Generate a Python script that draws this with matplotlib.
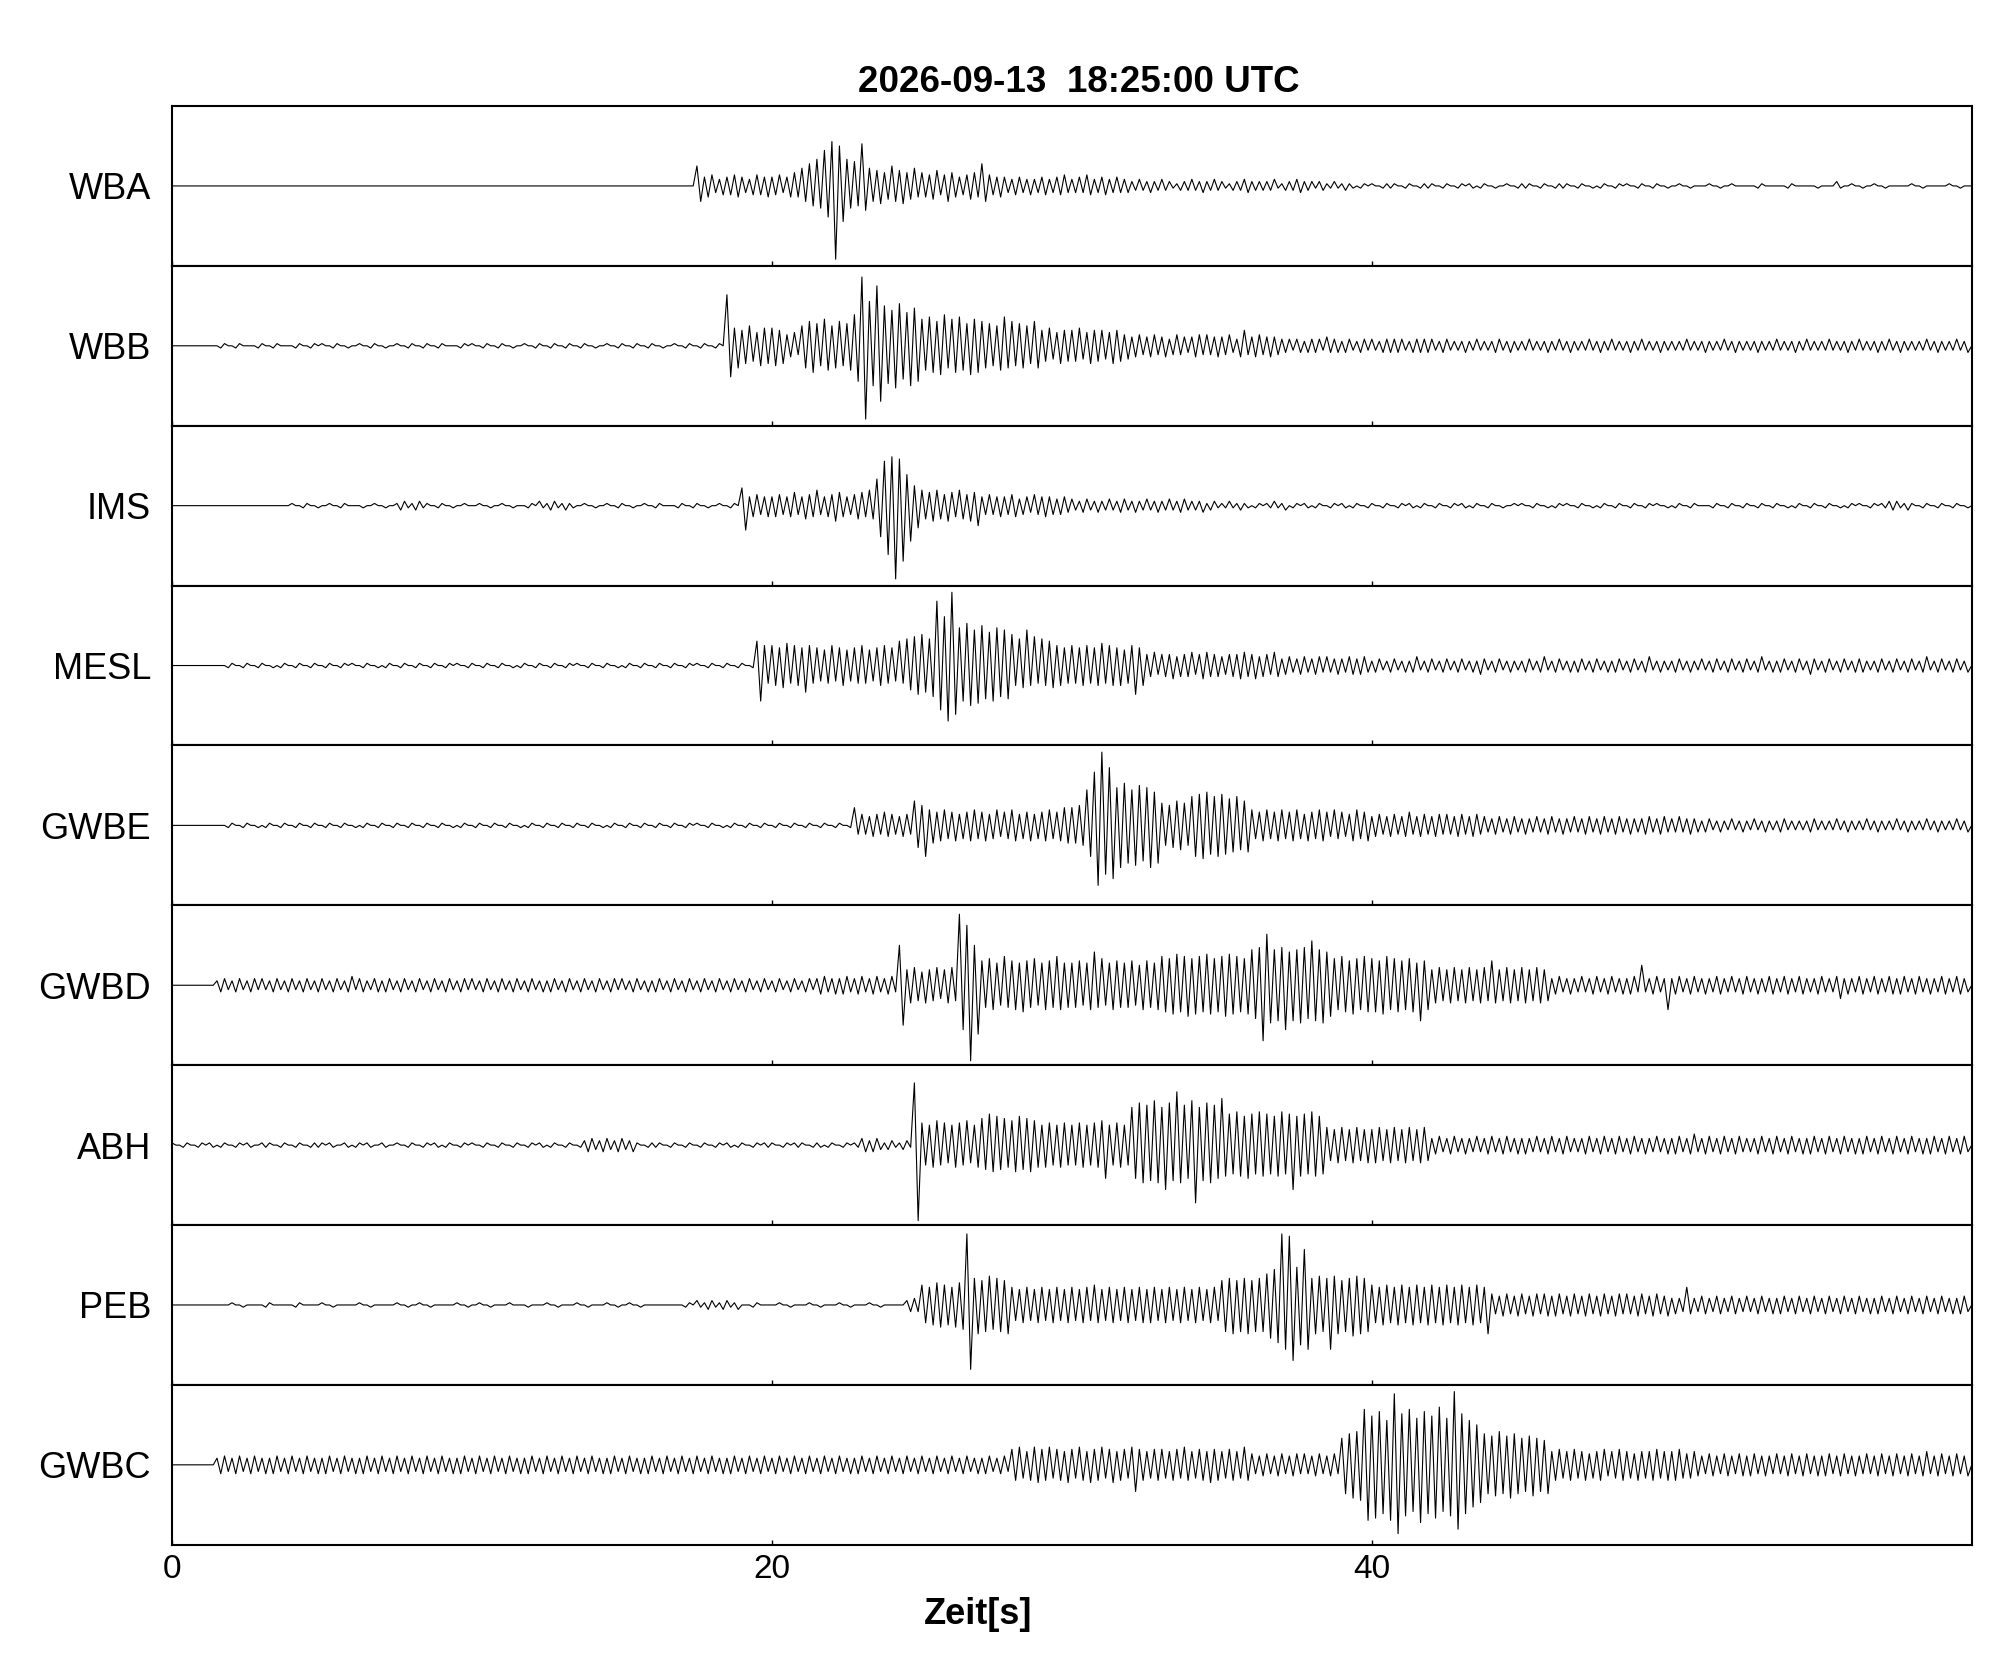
import numpy as np
import matplotlib.pyplot as plt

plt.rcParams['font.family'] = ['Liberation Sans', 'DejaVu Sans']

# ==========================
# Data
# ==========================
title = "2026-09-13  18:25:00 UTC"
xlabel = "Zeit[s]"
stations = ["WBA", "WBB", "IMS", "MESL", "GWBE", "GWBD", "ABH", "PEB", "GWBC"]
xticks = [0, 20, 40]
t_end = 60
bin_s = 0.25      # one min/max bin = 0.25 s
full_scale = 36   # level 36 would touch the panel edge

# peak up / peak down per 0.25 s bin, base-36 digits (0..z), 10 s per line
WBA_up = ("0000000000" "0000000000" "0000000000" "0000000000"
          "0000000000" "0000000000" "0000000000" "9453454354"
          "454" "68a" "cgkicbj" "8769768" "65756456a54" "434334345"
          "34534343" "23223212322321232223123222" "121101"
          "1011010110" "1011010010" "1101011010" "0101101010"
          "0100010010" "0010001000" "0020100100" "0010000100")
WBA_dn = ("0000000000" "0000000000" "0000000000" "0000000000"
          "0000000000" "0000000000" "0000000000" "7534453445"
          "435" "579" "aexga9b" "7867865" "56475465745" "343434343"
          "33434333" "22322122232212232221223212" "112110"
          "0110101101" "0101101001" "1010110101" "1010010101"
          "0010001000" "0100010001" "0010010010" "0001000010")

WBB_up = ("0000000101" "0010100101" "1010010100" "1010101001"
          "1010100101" "0101010010" "1010100101" "0101" "n" "87968"
          "87" "56" "9bac9ba" "evkr" "igjfh" "cdbecdac" "ba9dba9b" "7867"
          "78677675" "4545435445" "5445374544" "333233432323"
          "3233323332" "3222322322" "2322232223" "2232223222"
          "2232222322" "2222322232" "2322232223" "2222322232")
WBB_dn = ("0000001010" "0101001010" "0101001010" "0101010010"
          "0101010010" "1010101001" "0101010010" "1010" "e" "a8798"
          "98" "54" "ac9ba9b" "gxip" "hjfig" "bcdacbdc" "a9ba9a8a" "7687"
          "76876876" "5454544354" "4543545454" "323332333232"
          "2333233323" "2232223232" "2223223222" "3222322232"
          "2222322232" "2322223222" "2223222322" "3222232223")

IMS_up = ("0000000000" "0000001010" "0101000100" "1212101001"
          "0100100012" "1211010010" "1001010010" "100101" "8" "454"
          "45464574564567" "ckmle9" "76756756" "454453454434"
          "3232232322" "3223232212" "1211011210" "1101011010"
          "1010110101" "0110101001" "1010011010" "0101010110"
          "0101001010" "1010100101" "0100110112" "2110101010")
IMS_dn = ("0000000000" "0000000101" "0010010010" "2121010100"
          "0010010101" "2121001001" "0100100101" "010010" "b" "545"
          "54546545754656" "emxpga" "67675679" "445454345443"
          "2323223232" "2322322321" "1121101121" "0110101101"
          "0101011010" "1011010100" "0101100101" "1010101001"
          "1010010101" "0101011010" "1011001012" "1201010101")

MESL_up = ("0000000010" "1010010101" "0101101001" "0101010110"
           "1010100101" "0101101010" "0101010101" "10101010" "b" "9"
           "98a989" "87987897898b" "cdec" "tmx" "hjgifhg" "ecgdcb" "98"
           "9898a98798" "565545656545565456" "343434433434"
           "2323224232" "3232232322" "2324232232" "3223232422"
           "2322323232" "3242232323" "2323232232" "3232423232")
MESL_dn = ("0000000101" "0101101010" "1010010110" "1010101001"
           "0101011010" "1010010101" "1010101010" "01010101" "g" "8"
           "9a89c8" "787978879878" "bdce" "kpm" "gihfgef" "9a989a" "98"
           "89898998d9" "545655465545656545" "434343343443"
           "3232332323" "2323423232" "3232323323" "2332323232"
           "3232232323" "2323323242" "3232332323" "2323232323")

GWBE_up = ("0000000010" "1001010101" "0101001010" "1010101001"
           "0101010010" "1010101001" "0101010101" "1010010101"
           "01010101010" "8" "5456545" "b97" "67656765767565676" "8"
           "89" "goxq" "hjgihf" "a9ba" "defdecdb" "7676767567676576"
           "4545464545" "5454543434" "3343433434" "3434333434"
           "3433232232" "2322232223" "2232223222" "3222322232")
GWBE_dn = ("0000000101" "0110101010" "1010110101" "0101010110"
           "1010101101" "0101010110" "1010101010" "0101101010"
           "10101010101" "4" "4545454" "ae8" "76767676567676767" "8"
           "89" "ermo" "jhigjh" "9ab9" "efdedcbc" "6767676767565767"
           "5454545454" "4545434343" "4334343343" "4343434343"
           "3343323223" "2232322232" "2223222322" "2322232223")

GWBD_up = ("0000002323" "2332323232" "3232432323" "2323232323"
           "3232323232" "2323232323" "3232232323" "2323232323"
           "232323" "34334343434" "i" "7867878" "wri" "bcadbabcabda"
           "abafcabab9ba" "dcedcdecdedc" "ghnghfghkgf" "cdbcd"
           "cbdcbcab" "78787878b7878787" "3433434343349343"
           "3434334343" "4334343433" "4343343434" "3434334343")
GWBD_dn = ("0000003232" "3223232323" "2323232332" "3232323232"
           "2323232323" "3232323232" "2323323232" "3232323232"
           "323232" "43443434343" "i" "8787687" "kym" "ab9abca9baba"
           "a9ba9baa9bab" "cdcedcdcedcd" "fphgkghfghe" "bcdbc"
           "cdbcbcgb" "8787878787878787" "434334343443343b"
           "4343434334" "3434343434" "3364343434" "4343434343")

ABH_up = ("1010110101" "1011010101" "1101011010" "1010110101"
          "1010101011" "0101023232" "3210110101" "0101101011"
          "101110101011" "323" "1212" "s" "a9ba9ab9" "cedcbdcb" "9a9a"
          "9a9ab9a9" "hjikhjoikhji" "lefdefedfedefd" "878787"
          "7878787834" "3433434343" "3343434334" "3434343343"
          "3435343434" "3343434334" "3434334343" "4343343434")
ABH_dn = ("0101011010" "1010101011" "0101101010" "0101011010"
          "0101010101" "1010132323" "2301101010" "1010110101"
          "010101110101" "332" "2121" "y" "9a98a98a" "bcbacbca" "a9a9"
          "9a9af9a9" "fhghkghfqghf" "edefdededkeded" "787878"
          "8787878743" "4343343434" "4334343343" "4343434334"
          "4343434343" "3434343443" "4343443434" "3434434343")

PEB_up = ("0000000010" "0001000100" "1000010000" "1001000010"
          "0100010000" "1000100010" "0100000001" "2121210010"
          "010001000100010000" "23" "98a98a" "w" "cbdcb" "87878787"
          "8789787878" "7878787878" "bcbcbc" "egwvhp" "cdcdbcdc"
          "9898989898" "9898985454" "5455454545" "4545545454"
          "3383434343" "4343343434" "3434343343" "4343434334")
PEB_dn = ("0000000001" "0010001000" "0100001000" "0100100001"
          "0010000100" "0100010001" "0010000010" "1212120100"
          "001000100010001000" "33" "89a9ab" "t" "dcbcd" "78787878"
          "7878787878" "8787878787" "cdcdcc" "fhkpik" "dckdcedc"
          "8989898989" "89898d4545" "4545545454" "5454454545"
          "4343434343" "3434434343" "4343434434" "3434343443")

GWBC_up = ("0000003434" "3433434343" "3434334343" "4343434334"
           "3434343343" "4343434334" "3433434343" "4343343434"
           "3434343434" "3343434343" "4343434334" "3478687876"
           "786787678767" "767867676768" "545454554545" "cefp"
           "mokwnplomqlxnki" "edfdecdcb" "6767656767656676"
           "6756454545" "4544545454" "4545445454" "5454645454")
GWBC_dn = ("0000004343" "4344343434" "4343443434" "3434343443"
           "4343434434" "3434343443" "4344343434" "3434434343"
           "4343434343" "4434343434" "3434343443" "4376787678"
           "67876876c767" "676767876767" "454545445454" "dfgp"
           "ompvnlqmolntmjh" "dedfdcecd" "7676767567676767"
           "7665454545" "5454454545" "5454544545" "4545454545")

ups = [WBA_up, WBB_up, IMS_up, MESL_up, GWBE_up, GWBD_up, ABH_up, PEB_up, GWBC_up]
dns = [WBA_dn, WBB_dn, IMS_dn, MESL_dn, GWBE_dn, GWBD_dn, ABH_dn, PEB_dn, GWBC_dn]


def levels(s):
    return np.array([int(c, 36) for c in s], dtype=float) / full_scale


# ==========================
# Plot
# ==========================
fig, axes = plt.subplots(len(stations), 1, figsize=(20.05, 16.8), dpi=100, sharex=True)
fig.subplots_adjust(left=0.0858, right=0.9834, top=0.9369, bottom=0.0805, hspace=0)

for ax, name, up, dn in zip(axes, stations, ups, dns):
    u = levels(up)
    d = levels(dn)
    n = min(len(u), len(d))
    t = np.arange(n) * bin_s
    # min/max trace: peak up then peak down inside every bin
    x = np.column_stack([t, t + bin_s / 2]).ravel()
    y = np.column_stack([u[:n], -d[:n]]).ravel()
    x = np.append(x, t_end)
    y = np.append(y, 0.0)
    ax.plot(x, y, color="black", lw=0.8)

    ax.set_xlim(0, t_end)
    ax.set_ylim(-1, 1)
    ax.set_yticks([0])
    ax.set_yticklabels([name], fontsize=26)
    ax.tick_params(axis="y", length=0, pad=15)
    ax.set_xticks(xticks)
    ax.tick_params(axis="x", direction="in", length=3.5, width=1.0,
                   labelsize=24, pad=7)
    for sp in ax.spines.values():
        sp.set_linewidth(1.5)

fig.text(0.538, 0.951, title, fontsize=26.5, fontweight="bold",
         ha="center", va="center")
fig.text(0.488, 0.039, xlabel, fontsize=26, fontweight="bold",
         ha="center", va="center")

fig.savefig("out.png", dpi=100)
